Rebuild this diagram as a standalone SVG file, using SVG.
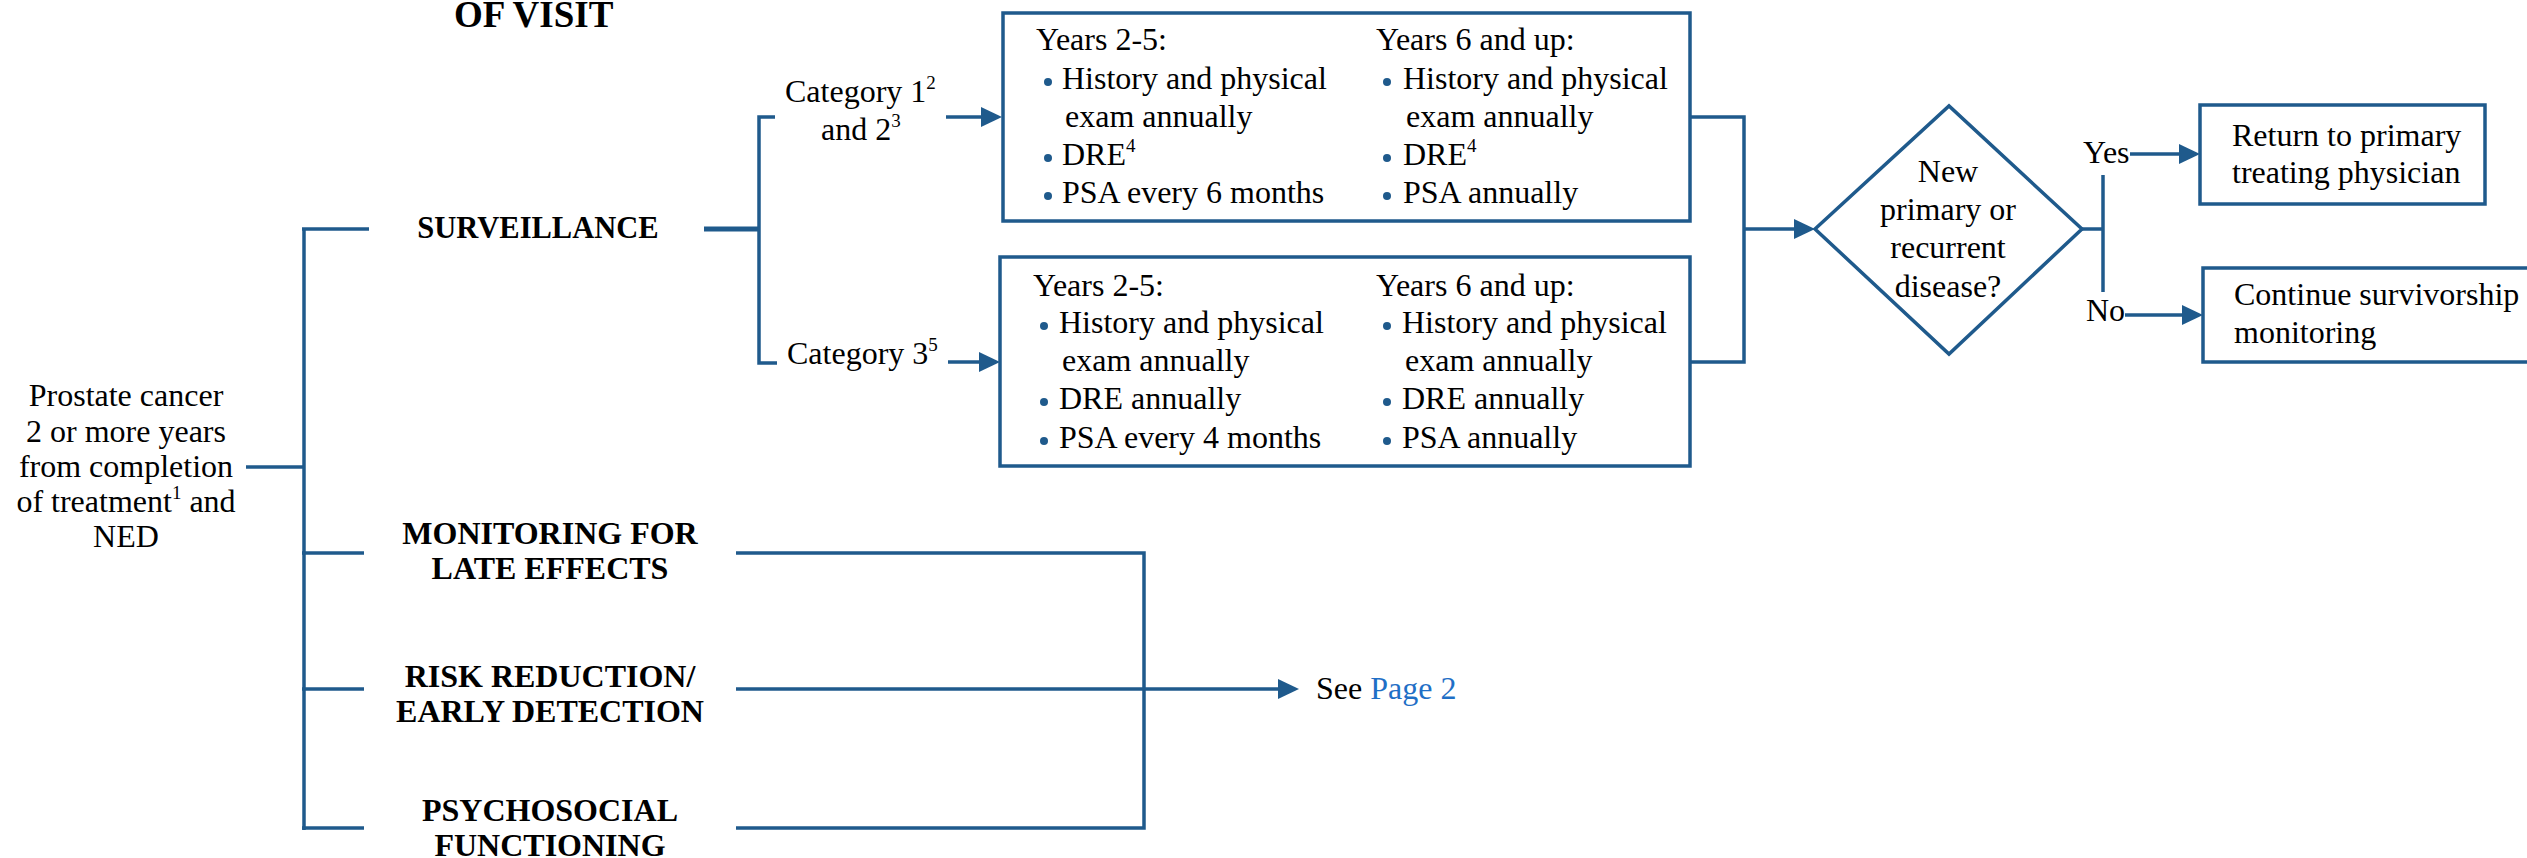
<svg xmlns="http://www.w3.org/2000/svg" width="2527" height="858" viewBox="0 0 2527 858">
  <style>
    text { font-family: "Liberation Serif", "Times New Roman", serif; fill: #000; }
    .t { font-size: 32px; }
    .b { font-size: 32px; font-weight: bold; }
    .mid { text-anchor: middle; }
    .link { fill: #1f6fc6; }
    .box { fill: #fff; stroke: #1f5a8c; stroke-width: 3.5; }
    .ln { fill: none; stroke: #1f5a8c; stroke-width: 3.5; }
    .dot { fill: #1f5a8c; }
  </style>
  <defs>
    <marker id="arrow" markerUnits="userSpaceOnUse" markerWidth="22" markerHeight="22" refX="11" refY="10" orient="auto">
      <path d="M0,0 L21,10 L0,20 Z" fill="#1f5a8c"/>
    </marker>
  </defs>

  <rect width="2527" height="858" fill="#fff"/>

  <!-- header fragment -->
  <text class="b" x="454" y="27" style="font-size:37px">OF VISIT</text>

  <!-- connectors -->
  <g id="connectors">
    <line class="ln" x1="246" y1="467" x2="304" y2="467"/>
    <line class="ln" x1="304" y1="228" x2="304" y2="830"/>
    <line class="ln" x1="302" y1="229" x2="369" y2="229"/>
    <line class="ln" x1="302" y1="553" x2="364" y2="553"/>
    <line class="ln" x1="302" y1="689" x2="364" y2="689"/>
    <line class="ln" x1="302" y1="828" x2="364" y2="828"/>

    <line class="ln" x1="704" y1="229" x2="759" y2="229" style="stroke-width:5"/>
    <polyline class="ln" points="775,117 759,117 759,363 777,363"/>
    <line class="ln" x1="946" y1="117" x2="992" y2="117" marker-end="url(#arrow)"/>
    <line class="ln" x1="948" y1="362" x2="990" y2="362" marker-end="url(#arrow)"/>

    <polyline class="ln" points="1690,117 1744,117 1744,362 1690,362"/>
    <line class="ln" x1="1744" y1="229" x2="1805" y2="229" marker-end="url(#arrow)"/>

    <line class="ln" x1="2082" y1="229" x2="2103" y2="229"/>
    <line class="ln" x1="2103" y1="175" x2="2103" y2="292"/>
    <line class="ln" x1="2130" y1="154" x2="2190" y2="154" marker-end="url(#arrow)"/>
    <line class="ln" x1="2125" y1="315" x2="2193" y2="315" marker-end="url(#arrow)"/>

    <polyline class="ln" points="736,553 1144,553 1144,828 736,828"/>
    <line class="ln" x1="736" y1="689" x2="1289" y2="689" marker-end="url(#arrow)"/>
  </g>

  <g id="start">
    <text class="t mid" x="126" y="406">Prostate cancer</text>
    <text class="t mid" x="126" y="442">2 or more years</text>
    <text class="t mid" x="126" y="477">from completion</text>
    <text class="t mid" x="126" y="512">of treatment<tspan font-size="19" dy="-13">1</tspan><tspan dy="13"> and</tspan></text>
    <text class="t mid" x="126" y="547">NED</text>
  </g>

  <g id="surveillance">
    <text class="b mid" x="538" y="238" style="font-size:30.5px">SURVEILLANCE</text>
  </g>
  <g id="late-effects">
    <text class="b mid" x="550" y="544">MONITORING FOR</text>
    <text class="b mid" x="550" y="579">LATE EFFECTS</text>
  </g>
  <g id="risk-reduction">
    <text class="b mid" x="550" y="687">RISK REDUCTION/</text>
    <text class="b mid" x="550" y="722">EARLY DETECTION</text>
  </g>
  <g id="psychosocial">
    <text class="b mid" x="550" y="821">PSYCHOSOCIAL</text>
    <text class="b mid" x="550" y="856">FUNCTIONING</text>
  </g>

  <g id="category-1-2">
    <text class="t" x="785" y="102">Category 1<tspan font-size="19" dy="-13">2</tspan></text>
    <text class="t" x="821" y="140">and 2<tspan font-size="19" dy="-13">3</tspan></text>
  </g>
  <g id="category-3">
    <text class="t" x="787" y="364">Category 3<tspan font-size="19" dy="-13">5</tspan></text>
  </g>

  <g id="schedule-1">
    <rect class="box" x="1003" y="13" width="687" height="208"/>
    <text class="t" x="1036" y="50">Years 2-5:</text>
    <circle class="dot" cx="1048" cy="82" r="4"/>
    <text class="t" x="1062" y="89">History and physical</text>
    <text class="t" x="1065" y="127">exam annually</text>
    <circle class="dot" cx="1048" cy="158" r="4"/>
    <text class="t" x="1062" y="165">DRE<tspan font-size="19" dy="-13">4</tspan></text>
    <circle class="dot" cx="1048" cy="196" r="4"/>
    <text class="t" x="1062" y="203">PSA every 6 months</text>

    <text class="t" x="1376" y="50">Years 6 and up:</text>
    <circle class="dot" cx="1387" cy="82" r="4"/>
    <text class="t" x="1403" y="89">History and physical</text>
    <text class="t" x="1406" y="127">exam annually</text>
    <circle class="dot" cx="1387" cy="158" r="4"/>
    <text class="t" x="1403" y="165">DRE<tspan font-size="19" dy="-13">4</tspan></text>
    <circle class="dot" cx="1387" cy="196" r="4"/>
    <text class="t" x="1403" y="203">PSA annually</text>
  </g>

  <g id="schedule-3">
    <rect class="box" x="1000" y="257" width="690" height="209"/>
    <text class="t" x="1033" y="296">Years 2-5:</text>
    <circle class="dot" cx="1044" cy="326" r="4"/>
    <text class="t" x="1059" y="333">History and physical</text>
    <text class="t" x="1062" y="371">exam annually</text>
    <circle class="dot" cx="1044" cy="402" r="4"/>
    <text class="t" x="1059" y="409">DRE annually</text>
    <circle class="dot" cx="1044" cy="441" r="4"/>
    <text class="t" x="1059" y="448">PSA every 4 months</text>

    <text class="t" x="1376" y="296">Years 6 and up:</text>
    <circle class="dot" cx="1387" cy="326" r="4"/>
    <text class="t" x="1402" y="333">History and physical</text>
    <text class="t" x="1405" y="371">exam annually</text>
    <circle class="dot" cx="1387" cy="402" r="4"/>
    <text class="t" x="1402" y="409">DRE annually</text>
    <circle class="dot" cx="1387" cy="441" r="4"/>
    <text class="t" x="1402" y="448">PSA annually</text>
  </g>

  <g id="decision">
    <polygon class="box" points="1815,229 1949,106 2082,229 1949,354"/>
    <text class="t mid" x="1948" y="182">New</text>
    <text class="t mid" x="1948" y="220">primary or</text>
    <text class="t mid" x="1948" y="258">recurrent</text>
    <text class="t mid" x="1948" y="297">disease?</text>
  </g>

  <g id="labels">
    <text class="t" x="2083" y="163">Yes</text>
    <text class="t" x="2086" y="321">No</text>
  </g>

  <g id="return">
    <rect class="box" x="2200" y="105" width="285" height="99"/>
    <text class="t" x="2232" y="146">Return to primary</text>
    <text class="t" x="2232" y="183">treating physician</text>
  </g>

  <g id="continue">
    <rect class="box" x="2203" y="268" width="340" height="94"/>
    <text class="t" x="2234" y="305">Continue survivorship</text>
    <text class="t" x="2234" y="343">monitoring</text>
  </g>

  <g id="see-page">
    <text class="t" x="1316" y="699">See <tspan class="link">Page 2</tspan></text>
  </g>
</svg>
